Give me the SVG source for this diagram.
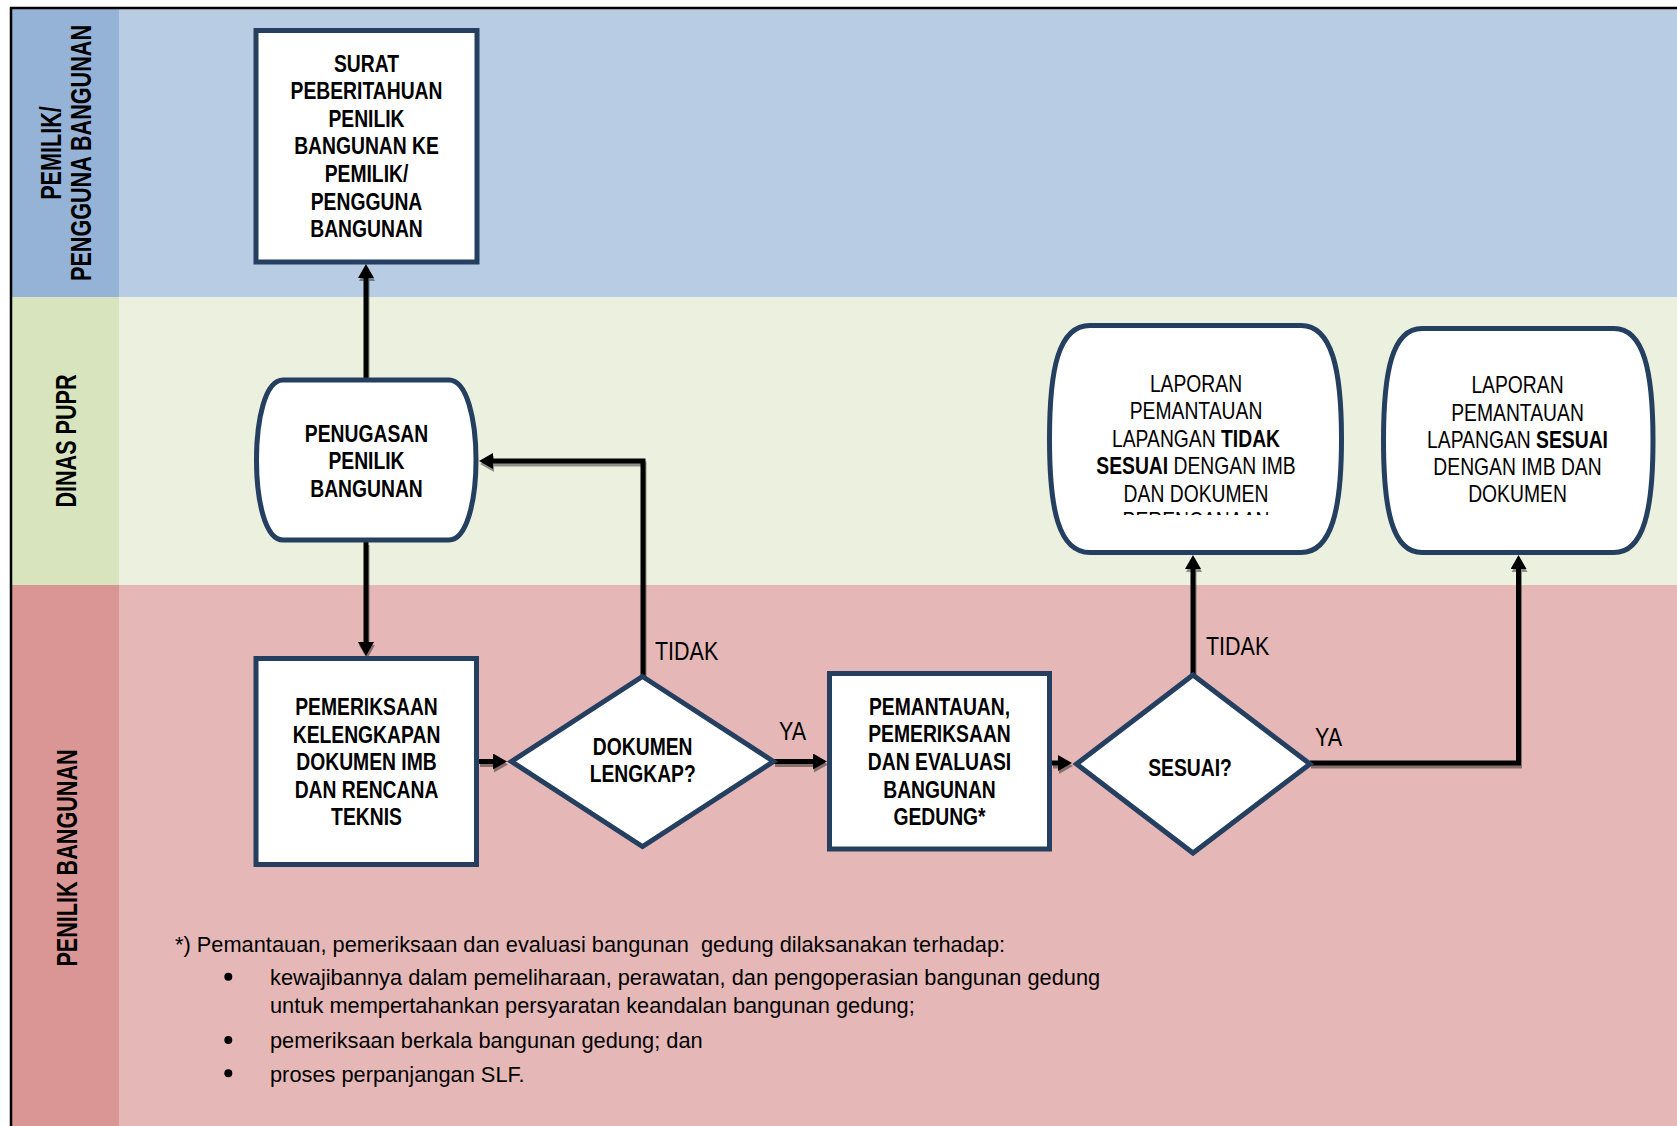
<svg xmlns="http://www.w3.org/2000/svg" width="1677" height="1126" viewBox="0 0 1677 1126">
<style>
.t{font-family:"Liberation Sans",Arial,Helvetica,sans-serif;fill:#000}
.nt{font-size:23px;text-anchor:middle}
.b{font-weight:bold}
.lane{font-size:29px;font-weight:bold;text-anchor:middle}
.lbl{font-size:25px}
.fn{font-size:21.8px}
.node{fill:#fff;stroke:#243f60;stroke-width:5;stroke-linejoin:miter}
.conn{fill:none;stroke:#000;stroke-width:5;stroke-linejoin:miter}
</style>
<defs>
<marker id="ah" markerUnits="userSpaceOnUse" markerWidth="16" markerHeight="16" refX="4" refY="8" orient="auto">
<path d="M0,0 L14,8 L0,16 Z" fill="#000"/>
</marker>
<filter id="sh" filterUnits="userSpaceOnUse" x="0" y="0" width="1677" height="1126">
<feDropShadow dx="1" dy="3" stdDeviation="0.6" flood-color="#000" flood-opacity="0.4"/>
</filter>
<clipPath id="clipL1"><rect x="1050" y="330" width="290" height="185"/></clipPath>
</defs>

<g id="background">
<rect x="0" y="0" width="1677" height="1126" fill="#fff"/>
<rect x="12" y="9" width="107" height="288" fill="#95b3d7"/>
<rect x="119" y="9" width="1558" height="288" fill="#b8cce4"/>
<rect x="12" y="297" width="107" height="288" fill="#d7e4bd"/>
<rect x="119" y="297" width="1558" height="288" fill="#ebf1de"/>
<rect x="12" y="585" width="107" height="541" fill="#d99694"/>
<rect x="119" y="585" width="1558" height="541" fill="#e5b8b7"/>
<line x1="10" y1="8" x2="1677" y2="8" stroke="#000" stroke-width="2.5"/>
<line x1="11" y1="7" x2="11" y2="1126" stroke="#000" stroke-width="2.5"/>
</g>

<g id="lane-labels" class="t">
<text class="lane" transform="translate(61 153) rotate(-90) scale(0.745 1)">PEMILIK/</text>
<text class="lane" transform="translate(91 153) rotate(-90) scale(0.745 1)">PENGGUNA BANGUNAN</text>
<text class="lane" transform="translate(76 441) rotate(-90) scale(0.745 1)">DINAS PUPR</text>
<text class="lane" transform="translate(77 858) rotate(-90) scale(0.745 1)">PENILIK BANGUNAN</text>
</g>

<g id="connectors" filter="url(#sh)">
<path class="conn" d="M366,378 V274" marker-end="url(#ah)"/>
<path class="conn" d="M366,542 V646" marker-end="url(#ah)"/>
<path class="conn" d="M479,761.5 H497" marker-end="url(#ah)"/>
<path class="conn" d="M774,761.5 H817" marker-end="url(#ah)"/>
<path class="conn" d="M643,676 V461 H489" marker-end="url(#ah)"/>
<path class="conn" d="M1052,763 H1062" marker-end="url(#ah)"/>
<path class="conn" d="M1193,675 V565" marker-end="url(#ah)"/>
<path class="conn" d="M1310,763 H1518.5 V565" marker-end="url(#ah)"/>
</g>

<g id="connector-labels" class="t lbl">
<text transform="translate(655 660) scale(0.86 1)">TIDAK</text>
<text transform="translate(779 740) scale(0.86 1)">YA</text>
<text transform="translate(1206 655) scale(0.86 1)">TIDAK</text>
<text transform="translate(1315 745.5) scale(0.86 1)">YA</text>
</g>

<g id="node-surat">
<rect class="node" x="256" y="30.5" width="221" height="231.5"/>
<g transform="translate(366.5 0) scale(0.84 1)">
<text class="t nt b"><tspan x="0" y="71.6">SURAT</tspan><tspan x="0" y="99.2">PEBERITAHUAN</tspan><tspan x="0" y="126.8">PENILIK</tspan><tspan x="0" y="154.4">BANGUNAN KE</tspan><tspan x="0" y="182">PEMILIK/</tspan><tspan x="0" y="209.6">PENGGUNA</tspan><tspan x="0" y="237.2">BANGUNAN</tspan></text>
</g>
</g>

<g id="node-penugasan">
<path class="node" d="M283,380 H449 C467,380 476,420 476,460 C476,500 467,540 449,540 H283 C265,540 256.5,500 256.5,460 C256.5,420 265,380 283,380 Z"/>
<g transform="translate(366.5 0) scale(0.84 1)">
<text class="t nt b"><tspan x="0" y="441.6">PENUGASAN</tspan><tspan x="0" y="469">PENILIK</tspan><tspan x="0" y="496.6">BANGUNAN</tspan></text>
</g>
</g>

<g id="node-pemeriksaan">
<rect class="node" x="256" y="658.5" width="220.5" height="206"/>
<g transform="translate(366.5 0) scale(0.84 1)">
<text class="t nt b"><tspan x="0" y="715">PEMERIKSAAN</tspan><tspan x="0" y="742.6">KELENGKAPAN</tspan><tspan x="0" y="770.2">DOKUMEN IMB</tspan><tspan x="0" y="797.8">DAN RENCANA</tspan><tspan x="0" y="825.4">TEKNIS</tspan></text>
</g>
</g>

<g id="node-dokumen-lengkap">
<polygon class="node" points="642.5,676.5 773.5,761.5 642.5,846.5 511.5,761.5"/>
<g transform="translate(642.7 0) scale(0.84 1)">
<text class="t nt b"><tspan x="0" y="755">DOKUMEN</tspan><tspan x="0" y="781.6">LENGKAP?</tspan></text>
</g>
</g>

<g id="node-pemantauan">
<rect class="node" x="829.5" y="673.5" width="220" height="175.5"/>
<g transform="translate(939.5 0) scale(0.84 1)">
<text class="t nt b"><tspan x="0" y="715">PEMANTAUAN,</tspan><tspan x="0" y="742.4">PEMERIKSAAN</tspan><tspan x="0" y="770">DAN EVALUASI</tspan><tspan x="0" y="797.6">BANGUNAN</tspan><tspan x="0" y="825">GEDUNG*</tspan></text>
</g>
</g>

<g id="node-sesuai">
<polygon class="node" points="1193,675 1310,764 1193,853 1076.5,764"/>
<g transform="translate(1190 0) scale(0.84 1)">
<text class="t nt b" x="0" y="776.5">SESUAI?</text>
</g>
</g>

<g id="node-laporan-tidak-sesuai">
<path class="node" d="M1090,325.5 H1301 C1332,325.5 1341.5,370 1341.5,439 C1341.5,508 1332,552.5 1301,552.5 H1090 C1058,552.5 1049.5,508 1049.5,439 C1049.5,370 1058,325.5 1090,325.5 Z"/>
<g clip-path="url(#clipL1)">
<g transform="translate(1196 0) scale(0.84 1)">
<text class="t nt"><tspan x="0" y="391.7">LAPORAN</tspan><tspan x="0" y="419.2">PEMANTAUAN</tspan><tspan x="0" y="446.7">LAPANGAN <tspan class="b">TIDAK</tspan></tspan><tspan x="0" y="474.2"><tspan class="b">SESUAI</tspan> DENGAN IMB</tspan><tspan x="0" y="501.7">DAN DOKUMEN</tspan><tspan x="0" y="529.2">PERENCANAAN</tspan></text>
</g>
</g>
</g>

<g id="node-laporan-sesuai">
<path class="node" d="M1422,328.5 H1614 C1644,328.5 1653,372 1653,440.5 C1653,509 1644,552.5 1614,552.5 H1422 C1392,552.5 1383.5,509 1383.5,440.5 C1383.5,372 1392,328.5 1422,328.5 Z"/>
<g transform="translate(1517.5 0) scale(0.84 1)">
<text class="t nt"><tspan x="0" y="393.3">LAPORAN</tspan><tspan x="0" y="420.6">PEMANTAUAN</tspan><tspan x="0" y="447.9">LAPANGAN <tspan class="b">SESUAI</tspan></tspan><tspan x="0" y="475.2">DENGAN IMB DAN</tspan><tspan x="0" y="502.5">DOKUMEN</tspan></text>
</g>
</g>

<g id="footnote">
<text class="t fn" x="175" y="951.7" xml:space="preserve">*) Pemantauan, pemeriksaan dan evaluasi bangunan  gedung dilaksanakan terhadap:</text>
<circle cx="228.3" cy="976.7" r="4" fill="#000"/>
<circle cx="228.3" cy="1040" r="4" fill="#000"/>
<circle cx="228.3" cy="1073.3" r="4" fill="#000"/>
<text class="t fn" x="270" y="985">kewajibannya dalam pemeliharaan, perawatan, dan pengoperasian bangunan gedung</text>
<text class="t fn" x="270" y="1013.3">untuk mempertahankan persyaratan keandalan bangunan gedung;</text>
<text class="t fn" x="270" y="1048.3">pemeriksaan berkala bangunan gedung; dan</text>
<text class="t fn" x="270" y="1081.7">proses perpanjangan SLF.</text>
</g>
</svg>
